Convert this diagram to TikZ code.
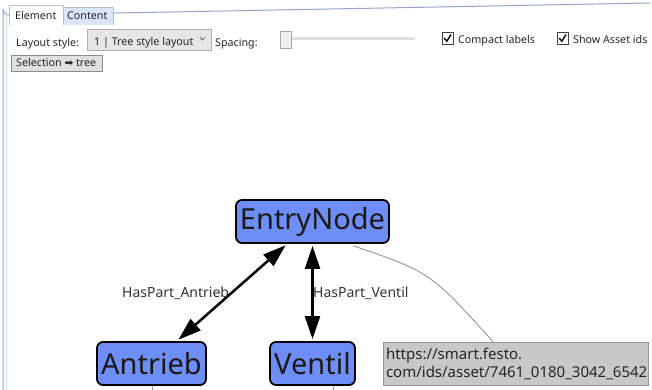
\documentclass[tikz,border=0pt]{standalone}
\usepackage{fontspec}
\setmainfont{Noto Sans}
\newfontfamily\symfont{DejaVu Sans}
\usetikzlibrary{arrows.meta}
\definecolor{nodeblue}{RGB}{110,142,246}
\definecolor{assetgray}{RGB}{200,200,200}
\definecolor{assetborder}{RGB}{150,150,150}
\definecolor{framecol}{RGB}{150,165,210}
\definecolor{tabblue}{RGB}{218,228,250}
\definecolor{ctrlfill}{RGB}{230,230,230}
\definecolor{ctrlborder}{RGB}{175,175,175}
\tikzset{
  uitext/.style={font=\fontsize{10.7}{12}\selectfont, inner sep=0pt, anchor=base west, text=black!85},
  gnode/.style={draw=black, line width=1.8pt, fill=nodeblue, rounded corners=6pt,
    font=\fontsize{29}{32}\selectfont, inner sep=0pt, text=black!90},
  elabel/.style={font=\fontsize{14}{16}\selectfont, inner sep=0pt, anchor=base west, text=black!80},
  biarrow/.style={line width=2.5pt, {Triangle[length=23pt,width=15pt]}-{Triangle[length=23pt,width=15pt]}, shorten <=2pt, shorten >=2pt},
  ctrl/.style={draw=ctrlborder, fill=ctrlfill},
  chkbox/.style={draw=black!75, fill=white, line width=0.8pt},
}
\begin{document}
\begin{tikzpicture}[x=1pt,y=-1pt]
\useasboundingbox (0,0) rectangle (652,390);
\fill[white] (0,0) rectangle (652,390);
% frame
\draw[framecol, line width=1pt] (3,390) -- (3,9) arc[start angle=180,end angle=90,radius=6] -- (650,3);
\draw[framecol!40, line width=0.8pt] (6,390) -- (6,10);
% tabs
\draw[draw=black!25, fill=tabblue] (63,25) -- (63,7) -- (113,7) -- (113,25);
\draw[draw=black!25, fill=white] (9,25) -- (9,5) -- (63,5) -- (63,25);
\node[uitext] (tabel) at (15,19.5) {Element};
\node[uitext] (tabco) at (67,19.5) {Content};
% layout style row
\node[uitext] (lstyle) at (16,46.5) {Layout style:};
\draw[ctrl] (87,29.5) rectangle (211,50);
\node[uitext] (combo) at (94,46) {1 | Tree style layout};
\draw[black!70, line width=0.7pt] (200,37.5) -- (202.5,40) -- (205,37.5);
\node[uitext] (spacing) at (215,46.5) {Spacing:};
\fill[black!12] (291,37.5) rectangle (415,40);
\draw[draw=black!35, fill=black!6] (280,31) rectangle (291,48);
% checkboxes
\draw[chkbox] (442,32.5) rectangle (453,44);
\draw[line width=1.4pt] (444.3,38.2) -- (446.8,41.2) -- (451,34.5);
\node[uitext] (compact) at (458,43.5) {Compact labels};
\draw[chkbox] (557,32.5) rectangle (568,44);
\draw[line width=1.4pt] (559.3,38.2) -- (561.8,41.2) -- (566,34.5);
\node[uitext] (showids) at (573,43.5) {Show Asset ids};
% button
\draw[draw=black!45, fill=black!12] (11,55) rectangle (102,71);
\node[uitext] (selbtn) at (16,67) {Selection {\symfont\fontsize{10.5}{11}\selectfont ➡} tree};
% graph nodes
\node[gnode, minimum width=153pt, minimum height=43pt] (entry) at (312.5,221.5) {EntryNode};
\node[gnode, minimum width=109pt, minimum height=43pt] (antrieb) at (151.5,363.5) {Antrieb};
\node[gnode, minimum width=85pt, minimum height=43pt] (ventil) at (312.5,363.5) {Ventil};
\node[draw=assetborder, fill=assetgray, line width=0.8pt, minimum width=265pt, minimum height=43pt,
  text width=259pt, align=left, inner xsep=3pt, inner ysep=0pt,
  font=\fontsize{15}{18}\selectfont, text=black!85] (asset) at (515.5,363.5)
  {https://smart.festo.\\com/ids/asset/7461\_0180\_3042\_6542};
% connectors
\draw[biarrow] (entry) -- (antrieb);
\draw[biarrow] (entry) -- (ventil);
\draw[assetborder, line width=0.9pt] ([xshift=41pt,yshift=-2pt]entry.south) .. controls (430,272) .. ([xshift=-22.5pt]asset.north);
\coordinate (abot) at (152,390);
\coordinate (vbot) at (333,390);
\draw[black!40, line width=0.6pt] (antrieb.south) ++(0.5,0) -- (abot);
\draw[black!40, line width=0.6pt] ([xshift=20.5pt]ventil.south) -- (vbot);
% edge labels
\node[elabel] (lab1) at (122,297) {HasPart\_Antrieb};
\node[elabel] (lab2) at (313,297.5) {HasPart\_Ventil};
\end{tikzpicture}
\end{document}
